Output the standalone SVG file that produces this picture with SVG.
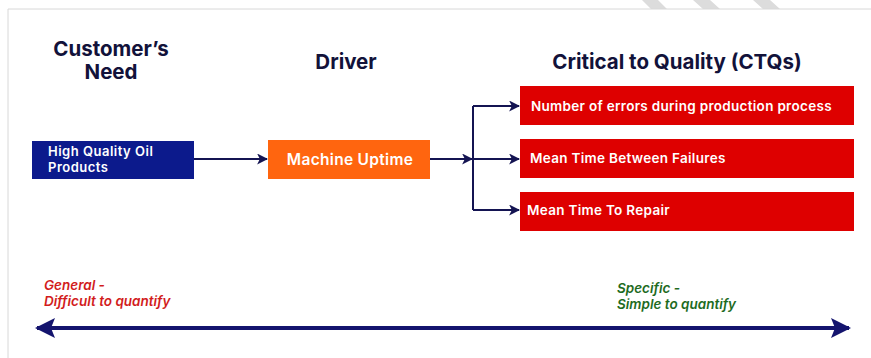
<svg xmlns="http://www.w3.org/2000/svg" width="871" height="358" viewBox="0 0 871 358">
  <defs>
    <marker id="arr" viewBox="0 0 10 10" refX="9" refY="5" markerWidth="11" markerHeight="11" markerUnits="userSpaceOnUse" orient="auto">
      <path d="M0,0 L10,5 L0,10 L2.5,5 Z" fill="#141452"/>
    </marker>
    <marker id="bigArr" viewBox="0 0 10 10" refX="9" refY="5" markerWidth="5" markerHeight="5.5" orient="auto-start-reverse">
      <path d="M0,0 L10,5 L0,10 L2,5 Z" fill="#14146e"/>
    </marker>
  </defs>
  <style>
    .head { font-family: "Inter", "Open Sans", sans-serif; font-weight: 700; font-size: 20.5px; fill: #12123a; text-anchor: middle; }
    .box-text { font-family: "Inter", "Open Sans", sans-serif; font-weight: 600; fill: #ffffff; }
    .conn { stroke: #141452; stroke-width: 2; fill: none; }
    .note { font-family: "Inter", "Open Sans", sans-serif; font-style: italic; font-weight: 600; font-size: 13.5px; }
  </style>
  <rect x="0" y="0" width="871" height="358" fill="#ffffff"/>
  <!-- frame lines and top stripes -->
  <g id="frame">
    <path d="M642,0 L658,0 L667,9 L651,9 Z M693,0 L710,0 L720,9 L703,9 Z M753,0 L770,0 L780,9 L763,9 Z" fill="#dcdcdc"/>
    <path d="M8,358 L8,9 L871,9" stroke="#d8d8d8" stroke-width="1" fill="none"/>
  </g>

  <g id="headings">
    <text class="head" x="111" y="56">Customer’s</text>
    <text class="head" x="111" y="79">Need</text>
    <text class="head" x="346" y="69">Driver</text>
    <text class="head" x="677" y="69">Critical to Quality (CTQs)</text>
  </g>

  <g id="need">
    <rect x="32" y="141" width="162" height="38" fill="#0c1a8c"/>
    <text class="box-text" x="48" y="156" font-size="13" letter-spacing="0.5">High Quality Oil</text>
    <text class="box-text" x="48" y="172" font-size="13" letter-spacing="0.5">Products</text>
  </g>

  <g id="driver">
    <rect x="268" y="140" width="162" height="39" fill="#ff650f"/>
    <text class="box-text" x="350" y="165" font-size="15.5" letter-spacing="0.3" text-anchor="middle">Machine Uptime</text>
  </g>

  <g id="ctq1">
    <rect x="520" y="86" width="334" height="39" fill="#de0000"/>
    <text class="box-text" x="531" y="111" font-size="13.5" letter-spacing="0.3">Number of errors during production process</text>
  </g>
  <g id="ctq2">
    <rect x="520" y="139" width="334" height="39" fill="#de0000"/>
    <text class="box-text" x="530" y="163" font-size="13.5" letter-spacing="0.3">Mean Time Between Failures</text>
  </g>
  <g id="ctq3">
    <rect x="520" y="192" width="334" height="39" fill="#de0000"/>
    <text class="box-text" x="527" y="215" font-size="13.5" letter-spacing="0.3">Mean Time To Repair</text>
  </g>

  <g id="connectors">
    <line class="conn" x1="194" y1="159" x2="267" y2="159" marker-end="url(#arr)"/>
    <line class="conn" x1="430" y1="159" x2="472" y2="159" marker-end="url(#arr)"/>
    <path class="conn" d="M473,106 L473,210"/>
    <line class="conn" x1="473" y1="106" x2="519" y2="106" marker-end="url(#arr)"/>
    <line class="conn" x1="473" y1="159" x2="519" y2="159" marker-end="url(#arr)"/>
    <line class="conn" x1="473" y1="210" x2="519" y2="210" marker-end="url(#arr)"/>
  </g>

  <g id="scale">
    <text class="note" x="44" y="290" fill="#d21c1c">General -</text>
    <text class="note" x="44" y="306" fill="#d21c1c">Difficult to quantify</text>
    <text class="note" x="617" y="293" fill="#1e6b1e">Specific -</text>
    <text class="note" x="617" y="309" fill="#1e6b1e">Simple to quantify</text>
    <line x1="37" y1="328" x2="849" y2="328" stroke="#14146e" stroke-width="4" marker-start="url(#bigArr)" marker-end="url(#bigArr)"/>
  </g>
</svg>
